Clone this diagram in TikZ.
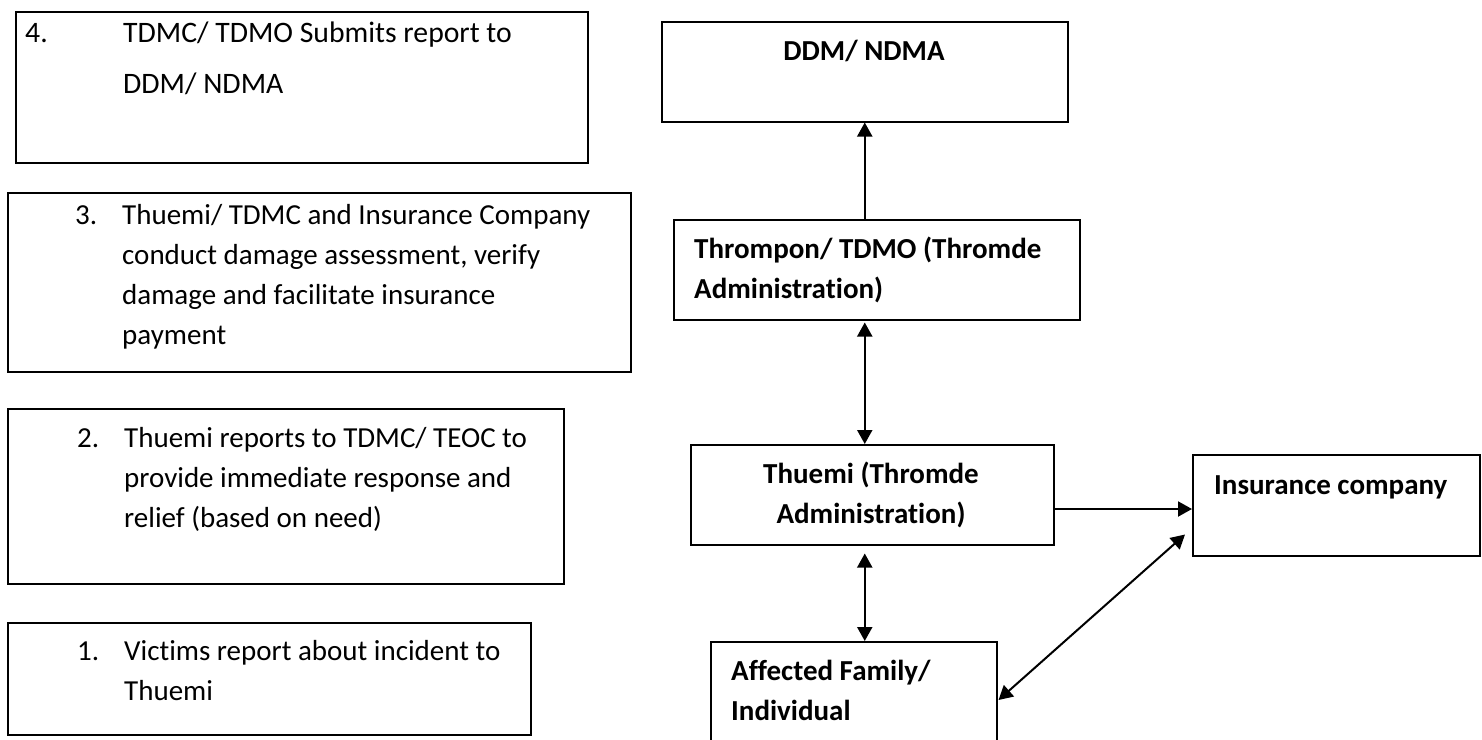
\documentclass[tikz,border=0pt]{standalone}
\usepackage{fontspec}
\setmainfont{Carlito}[Ligatures=NoCommon]
\usetikzlibrary{arrows.meta,calc}
% several lines of text set as one top-aligned block
\newcommand\txtlines[2][l]{\begin{tabular}[t]{@{}#1@{}}#2\end{tabular}}
\tikzset{tipA/.tip={Triangle[length=14pt,width=15pt]}}
\begin{document}
\begin{tikzpicture}[x=1pt,y=-1pt,
  box/.style={draw,line width=1.5pt,inner sep=0pt,anchor=north west},
  txt/.style={anchor=base west,inner sep=0pt,font=\fontsize{29}{40}\selectfont},
  wide/.style={txt,font=\fontsize{29.7}{51}\selectfont},
  btxt/.style={txt,font=\fontsize{29}{40}\selectfont\bfseries},
  link/.style={line width=2pt}]
\clip (0,0) rectangle (1482,739);
\fill[white] (0,0) rectangle (1482,739);

% numbered steps on the left
\node[box,minimum width=572pt,minimum height=151pt] (s4) at (15,11) {};
\node[wide] (n4) at (25,42) {4.};
\node[wide] (t4) at (123,42) {\txtlines{TDMC/ TDMO Submits report to\\DDM/ NDMA}};

\node[box,minimum width=623pt,minimum height=179pt] (s3) at (7,192) {};
\node[txt] (n3) at (75,224) {3.};
\node[txt] (t3) at (122,224) {\txtlines{Thuemi/ TDMC and Insurance Company\\conduct damage assessment, verify\\damage and facilitate insurance\\payment}};

\node[box,minimum width=556pt,minimum height=175pt] (s2) at (7,408) {};
\node[txt] (n2) at (77,447) {2.};
\node[txt] (t2) at (124,447) {\txtlines{Thuemi reports to TDMC/ TEOC to\\provide immediate response and\\relief (based on need)}};

\node[box,minimum width=523pt,minimum height=112pt] (s1) at (7,622) {};
\node[txt] (n1) at (77,660) {1.};
\node[txt] (t1) at (124,660) {\txtlines{Victims report about incident to\\Thuemi}};

% reporting chain on the right
\node[box,minimum width=406pt,minimum height=100pt] (ddm) at (661,21) {};
\node[btxt,anchor=base] (lddm) at (864,60) {DDM/ NDMA};

\node[box,minimum width=406pt,minimum height=100pt] (thrompon) at (673,219) {};
\node[btxt] (lthrompon) at (694,258) {\txtlines{Thrompon/ TDMO (Thromde\\Administration)}};

\node[box,minimum width=363pt,minimum height=100pt] (thuemi) at (690,444) {};
\node[btxt,anchor=base] (lthuemi) at (871,483) {\txtlines[c]{Thuemi (Thromde\\Administration)}};

\node[box,minimum width=287pt,minimum height=101pt] (insurance) at (1192,454) {};
\node[btxt] (linsurance) at (1214,494) {Insurance company};

\node[box,minimum width=286pt,minimum height=160pt] (affected) at (710,641) {};
\node[btxt] (laffected) at (731,680) {\txtlines{Affected Family/\\Individual}};

% connectors
\draw[link,-tipA] (thrompon.north -| ddm.south) -- (ddm.south);
\draw[link,tipA-tipA] ($(thrompon.south -| ddm.south)+(0,2)$) -- (thuemi.north -| ddm.south);
\draw[link,tipA-tipA] ($(thuemi.south -| ddm.south)+(0,8)$) -- (affected.north -| ddm.south);
\draw[link,-tipA] ($(thuemi.north east)+(0,65)$) coordinate (h) -- (h -| insurance.west);
\draw[link,tipA-tipA] ($(affected.north east)+(1,59)$) -- ($(insurance.south west)+(-7,-22)$);
\end{tikzpicture}
\end{document}
